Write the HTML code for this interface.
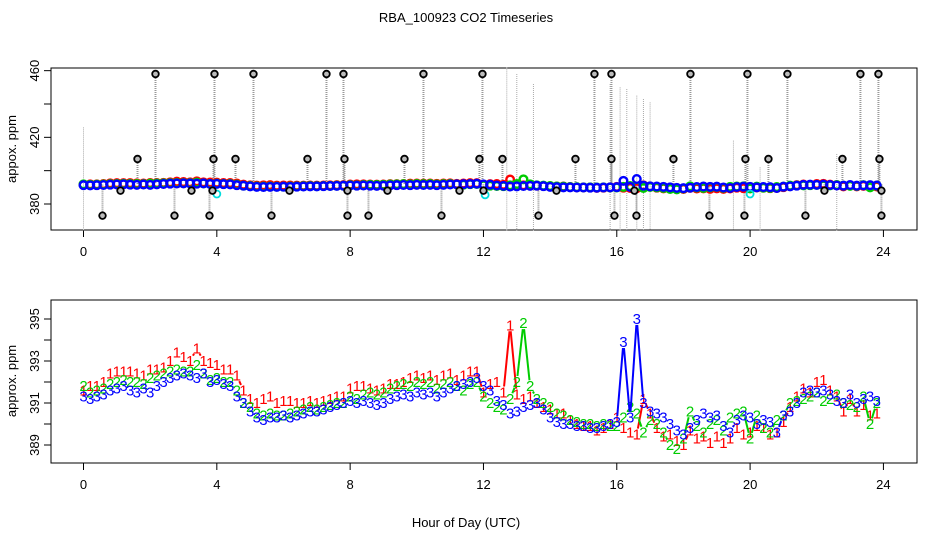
<!DOCTYPE html>
<html><head><meta charset="utf-8"><style>
body{margin:0;background:#fff;}
svg{display:block;font-family:"Liberation Sans",sans-serif;}
</style></head><body>
<svg id="c" width="936" height="540" viewBox="0 0 936 540" xmlns="http://www.w3.org/2000/svg">
<text x="466" y="22" text-anchor="middle" font-size="13">RBA_100923  CO2 Timeseries</text>
<text x="466" y="527" text-anchor="middle" font-size="13">Hour of Day (UTC)</text>
<text transform="translate(16,149) rotate(-90)" text-anchor="middle" font-size="13">appox. ppm</text>
<text transform="translate(16,381) rotate(-90)" text-anchor="middle" font-size="13">approx. ppm</text>
<rect x="51" y="68" width="866" height="162" fill="none" stroke="#000"/>
<rect x="51" y="300" width="866" height="163" fill="none" stroke="#000"/>
<g id="topPanel"></g>
<g id="botPanel"></g>
</svg>
<script>
const xTicks=[0,4,8,12,16,20,24];
const topYTicks=[380,400,420,440,460];
const topYLabels=[380,420,460];
const botYTicks=[389,390,391,392,393,394,395];
const botYLabels=[389,391,393,395];
const step=0.2;
const red=[391.6,391.8,391.8,392.0,392.4,392.5,392.5,392.5,392.4,392.3,
392.6,392.6,392.7,393.0,393.4,393.2,393.0,393.6,393.0,392.9,
392.8,392.6,392.6,392.3,391.6,391.2,391.0,391.2,391.3,391.0,
391.1,391.1,391.0,391.0,391.1,391.0,391.1,391.2,391.3,391.3,
391.7,391.8,391.8,391.7,391.6,391.7,391.9,391.9,392.0,392.2,
392.3,392.2,392.3,392.1,392.3,392.4,392.1,392.3,392.5,392.5,
391.5,391.9,392.0,391.5,394.7,391.4,391.2,391.3,391.0,390.8,
390.7,390.5,390.5,390.2,390.0,389.9,389.9,389.7,389.8,390.0,
390.3,389.8,389.6,389.5,391.2,390.5,389.8,389.4,389.5,389.2,
389.0,389.7,389.3,389.4,389.1,389.4,389.1,389.3,389.8,389.5,
389.6,389.9,389.8,389.5,389.6,390.1,390.8,391.3,391.7,391.5,
392.0,392.1,391.6,391.3,390.6,391.2,390.6,390.9,390.4,390.5];
const green=[391.8,391.5,391.6,391.7,391.9,392.0,392.1,392.0,392.0,391.9,
392.2,392.3,392.4,392.5,392.6,392.5,392.5,392.8,392.4,392.1,
392.2,392.0,392.0,391.6,391.0,390.8,390.5,390.4,390.5,390.4,
390.4,390.5,390.6,390.7,390.8,390.7,390.8,390.9,391.0,391.0,
391.3,391.2,391.4,391.5,391.4,391.5,391.7,391.8,391.9,391.8,
392.0,391.9,392.0,391.7,391.9,392.0,391.8,391.6,391.9,392.0,
391.3,391.0,390.8,390.7,391.2,392.0,394.8,391.8,391.2,391.0,
390.8,390.5,390.4,390.2,390.1,390.0,390.0,389.9,390.0,389.9,
389.9,390.3,390.8,390.5,389.6,390.2,390.0,389.6,389.0,388.8,
389.3,390.6,389.9,389.6,390.0,390.2,389.7,390.3,390.5,390.6,
389.3,390.4,389.8,389.6,390.2,390.4,391.0,391.1,391.2,391.3,
391.5,391.1,391.2,391.4,391.0,390.9,390.8,391.3,390.0,391.0];
const blue=[391.3,391.2,391.3,391.4,391.6,391.7,391.8,391.6,391.5,391.7,
391.5,391.8,392.0,392.2,392.3,392.4,392.3,392.2,392.4,392.0,
392.1,391.9,391.8,391.3,391.0,390.6,390.3,390.2,390.3,390.3,
390.4,390.3,390.4,390.5,390.6,390.6,390.7,390.8,390.9,391.0,
391.1,391.0,391.1,391.0,390.9,391.0,391.2,391.3,391.4,391.3,
391.5,391.4,391.5,391.3,391.5,391.7,391.8,391.9,392.0,392.2,
391.8,391.6,391.1,390.9,390.5,390.6,390.8,390.9,391.0,390.7,
390.3,390.1,390.0,390.0,389.9,389.9,389.8,389.8,389.9,390.0,
390.1,393.9,390.3,395.0,391.0,390.6,390.5,390.3,390.0,389.7,
389.5,389.8,390.2,390.5,390.3,390.4,389.9,389.6,390.2,390.4,
390.3,390.0,390.2,390.1,389.6,390.4,390.6,391.0,391.5,391.6,
391.5,391.6,391.4,391.1,391.0,391.4,391.0,391.2,391.3,391.1];
const cyanHours=[4.0,12.05,20.0];
const cyanValues=[386,385.5,386];
const outlierHours=[0.57,1.11,1.62,2.16,2.73,3.24,3.78,3.87,3.9,3.93,4.56,5.1,5.64,6.18,6.72,7.29,7.8,7.83,7.92,7.92,8.55,9.12,9.63,10.2,10.74,11.28,11.88,11.97,12.0,12.57,13.65,14.19,14.76,15.33,15.84,15.84,15.93,16.53,16.59,17.7,18.21,18.78,19.83,19.86,19.92,20.55,21.12,21.66,22.23,22.77,23.31,23.85,23.88,23.94,23.94];
const outlierValues=[373,388,407,458,373,388,373,388,407,458,407,458,373,388,407,458,458,407,373,388,373,388,407,458,373,388,407,458,388,407,373,388,407,458,458,407,373,388,373,407,458,373,373,407,458,407,458,373,388,407,458,458,407,373,388];
const spikeHours=[0.0,12.7,13.0,13.5,15.8,16.1,16.3,16.6,16.8,17.0,19.5,20.3,22.6];
const spikeTops=[426,462,458,452,452,450,449,445,443,441,418,402,410];
const spikeBottoms=[364,364,364,364,364,364,364,364,364,364,364,364,364];

const NS="http://www.w3.org/2000/svg";
const X=h=>83.5+h*33.33;
const YT=v=>204-(v-380)*1.6667;
const YB=v=>319+(395-v)*21;
function mk(tag,attrs,parent){const e=document.createElementNS(NS,tag);for(const k in attrs)e.setAttribute(k,attrs[k]);parent.appendChild(e);return e;}
const topG=document.getElementById('topPanel'),botG=document.getElementById('botPanel');

[[topG,230],[botG,463]].forEach(([g,y0])=>{
  xTicks.forEach(t=>{
    const l=mk('line',{x1:X(t),x2:X(t),y1:y0,y2:y0+7,stroke:'#000'},g);
    
    
    const tx=mk('text',{x:X(t),y:y0+26,'text-anchor':'middle','font-size':'13'},g);
    tx.textContent=t;
    
    
  });
});
topYTicks.forEach(v=>{
  const l=mk('line',{x1:44,x2:51,y1:YT(v),y2:YT(v),stroke:'#000'},topG);
  
  
});
topYLabels.forEach(v=>{
  const t=mk('text',{transform:`translate(39,${YT(v)}) rotate(-90)`,'text-anchor':'middle','font-size':'13'},topG);
  t.textContent=v;
  
  
});
botYTicks.forEach(v=>{
  const l=mk('line',{x1:44,x2:51,y1:YB(v),y2:YB(v),stroke:'#000'},botG);
  
  
});
botYLabels.forEach(v=>{
  const t=mk('text',{transform:`translate(39,${YB(v)}) rotate(-90)`,'text-anchor':'middle','font-size':'13'},botG);
  t.textContent=v;
  
  
});

spikeHours.forEach((h,i)=>{
  const l=mk('line',{x1:X(h),x2:X(h),y1:YT(spikeTops[i]),y2:YT(spikeBottoms[i]),stroke:'#aaa','stroke-dasharray':'1,1'},topG);
  
  
});
outlierHours.forEach((h,i)=>{
  const l=mk('line',{x1:X(h),x2:X(h),y1:YT(outlierValues[i]),y2:YT(392),stroke:'#999','stroke-width':'2','stroke-dasharray':'1,1'},topG);
  
  
});
[[red,'#f00'],[green,'#0c0'],[blue,'#00f']].forEach(([arr,col],si)=>{
  arr.forEach((v,i)=>{
    const c=mk('circle',{cx:X(i*step),cy:YT(v),r:3.8,fill:'none',stroke:col,'stroke-width':'2.4'},topG);
    
    
  });
});
cyanHours.forEach((h,i)=>{
  const c=mk('circle',{cx:X(h),cy:YT(cyanValues[i]),r:3.5,fill:'none',stroke:'#0dd','stroke-width':'1.8'},topG);
  
  
});
outlierHours.forEach((h,i)=>{
  const c=mk('circle',{cx:X(h),cy:YT(outlierValues[i]),r:3.3,fill:'#bbb',stroke:'#000','stroke-width':'1.8'},topG);
  
  
});

[[red,'#f00','1'],[green,'#0c0','2'],[blue,'#00f','3']].forEach(([arr,col,ch],si)=>{
  for(let i=0;i<arr.length-1;i++){
    const x1=X(i*step),y1=YB(arr[i]),x2=X((i+1)*step),y2=YB(arr[i+1]);
    const dx=x2-x1,dy=y2-y1,len=Math.hypot(dx,dy),gap=6;
    if(len<=2*gap+1) continue;
    const ux=dx/len,uy=dy/len;
    const l=mk('line',{x1:x1+ux*gap,y1:y1+uy*gap,x2:x2-ux*gap,y2:y2-uy*gap,stroke:col,'stroke-width':'2'},botG);
    
    
  }
  arr.forEach((v,i)=>{
    const t=mk('text',{x:X(i*step),y:YB(v)+5,'text-anchor':'middle','font-size':'15',fill:col},botG);
    t.textContent=ch;
    
    
  });
});
</script>
</body></html>
